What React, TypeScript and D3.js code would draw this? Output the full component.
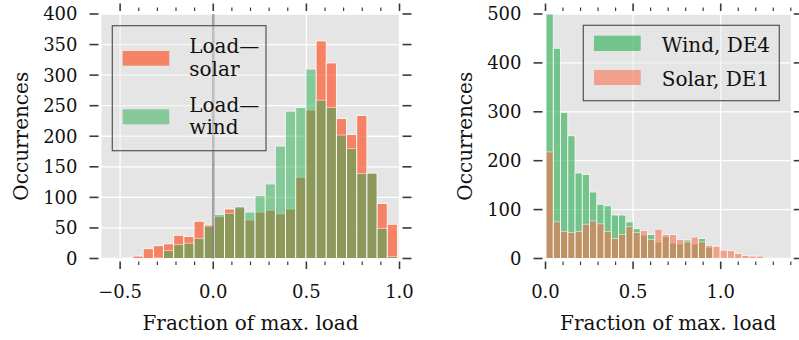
import React, { useEffect, useRef } from 'react';
import * as d3 from 'd3';

const W = 799;
const H = 340;
const FONT = '"DejaVu Serif", serif';

// left panel: load minus renewable generation (histogram counts)
const leftBinStart = -0.54;
const leftBinWidth = 0.0546;
const loadSolar = [2, 1, 4, 16, 21, 24, 38, 36, 61, 55, 69, 81, 83, 63, 76, 79, 73, 81, 133, 243, 356, 320, 229, 203, 234, 139, 90, 56];
const loadWind = [0, 0, 0, 0, 1, 13, 23, 25, 33, 53, 72, 74, 85, 76, 103, 122, 184, 241, 247, 310, 259, 247, 202, 180, 139, 140, 49, 3];

// right panel: renewable generation per region
const rightBinStart = 0.003;
const rightBinWidth = 0.0414;
const windDE4 = [500, 430, 299, 251, 175, 172, 136, 111, 108, 89, 89, 75, 61, 48, 49, 34, 45, 32, 30, 38, 30, 41, 23, 0, 0, 0, 0, 0, 0, 0];
const solarDE1 = [218, 75, 55, 53, 55, 70, 77, 71, 55, 41, 49, 65, 53, 57, 39, 60, 49, 49, 39, 34, 44, 34, 27, 25, 17, 16, 10, 6, 5, 5];

const leftXTicks = [-0.5, 0, 0.5, 1.0];
const leftYTicks = [0, 50, 100, 150, 200, 250, 300, 350, 400];
const rightXTicks = [0, 0.5, 1.0];
const rightYTicks = [0, 100, 200, 300, 400, 500];

const GREEN = '#27ae4f';
const RED = '#fa6a46';

interface Series {
  values: number[];
  color: string;
  opacity: number;
}

interface PanelOpts {
  id: string;
  x0: number;
  x1: number;
  y0: number;
  y1: number;
  xDomain: [number, number];
  yDomain: [number, number];
  xTicks: number[];
  minorTicks: number[];
  yTicks: number[];
  binStart: number;
  binWidth: number;
  series: Series[];
}

function drawPanel(svg: d3.Selection<SVGSVGElement, unknown, null, undefined>, o: PanelOpts) {
  const x = d3.scaleLinear().domain(o.xDomain).range([o.x0, o.x1]);
  const y = d3.scaleLinear().domain(o.yDomain).range([o.y1, o.y0]);
  const g = svg.append('g');

  svg.append('defs').append('clipPath').attr('id', o.id)
    .append('rect').attr('x', o.x0).attr('y', o.y0).attr('width', o.x1 - o.x0).attr('height', o.y1 - o.y0);

  g.append('rect')
    .attr('x', o.x0).attr('y', o.y0)
    .attr('width', o.x1 - o.x0).attr('height', o.y1 - o.y0)
    .attr('fill', '#e5e5e5');

  // grid
  g.selectAll('line.gx').data(o.xTicks).join('line')
    .attr('x1', d => x(d)).attr('x2', d => x(d))
    .attr('y1', o.y0).attr('y2', o.y1)
    .attr('stroke', '#fff').attr('stroke-width', 1.3);
  g.selectAll('line.gy').data(o.yTicks).join('line')
    .attr('y1', d => y(d)).attr('y2', d => y(d))
    .attr('x1', o.x0).attr('x2', o.x1)
    .attr('stroke', '#fff').attr('stroke-width', 1.3);

  const bars = g.append('g').attr('clip-path', `url(#${o.id})`);
  o.series.forEach(s => {
    bars.append('g').selectAll('rect').data(s.values).join('rect')
      .attr('x', (_, i) => x(o.binStart + i * o.binWidth))
      .attr('width', (_, i) => x(o.binStart + (i + 1) * o.binWidth) - x(o.binStart + i * o.binWidth))
      .attr('y', d => y(d))
      .attr('height', d => y(0) - y(d))
      .attr('fill', s.color)
      .attr('stroke', '#fff')
      .attr('stroke-width', 0.9)
      .attr('opacity', s.opacity);
  });

  // ticks, outward with a small gap
  const tk = g.append('g').attr('stroke', '#3a3a3a');
  const gap = 3;
  o.minorTicks.forEach(t => {
    const major = o.xTicks.some(m => Math.abs(m - t) < 1e-6);
    const len = major ? 7.5 : 3.5;
    const w = major ? 1.6 : 1.2;
    tk.append('line').attr('x1', x(t)).attr('x2', x(t))
      .attr('y1', o.y0 - gap).attr('y2', o.y0 - gap - len).attr('stroke-width', w);
    tk.append('line').attr('x1', x(t)).attr('x2', x(t))
      .attr('y1', o.y1 + gap).attr('y2', o.y1 + gap + len).attr('stroke-width', w);
  });
  o.yTicks.forEach(t => {
    tk.append('line').attr('y1', y(t)).attr('y2', y(t))
      .attr('x1', o.x0 - gap).attr('x2', o.x0 - gap - 9).attr('stroke-width', 1.6);
    tk.append('line').attr('y1', y(t)).attr('y2', y(t))
      .attr('x1', o.x1 + gap).attr('x2', o.x1 + gap + 9).attr('stroke-width', 1.6);
  });

  // tick labels
  const fmtX = d3.format('.1f');
  g.selectAll('text.xl').data(o.xTicks).join('text')
    .attr('x', d => x(d)).attr('y', 297.5)
    .attr('text-anchor', 'middle')
    .attr('font-family', FONT).attr('font-size', 18).attr('fill', '#111')
    .text(d => fmtX(d).replace('-', '\u2212'));
  g.selectAll('text.yl').data(o.yTicks).join('text')
    .attr('x', o.x0 - 24).attr('y', d => y(d)).attr('dy', '0.36em')
    .attr('text-anchor', 'end')
    .attr('font-family', FONT).attr('font-size', 18).attr('fill', '#111')
    .text(d => d);

  g.append('text')
    .attr('x', (o.x0 + o.x1) / 2).attr('y', 329.5)
    .attr('text-anchor', 'middle')
    .attr('font-family', FONT).attr('font-size', 20).attr('fill', '#111')
    .text('Fraction of max. load');
  g.append('text')
    .attr('transform', `translate(${o.x0 - 73.5},${(o.y0 + o.y1) / 2}) rotate(-90)`)
    .attr('text-anchor', 'middle')
    .attr('font-family', FONT).attr('font-size', 20).attr('fill', '#111')
    .text('Occurrences');

  return { g, x, y };
}

const App: React.FC = () => {
  const svgRef = useRef<SVGSVGElement>(null);

  useEffect(() => {
    if (!svgRef.current) return;
    const svg = d3.select(svgRef.current);
    svg.selectAll('*').remove();

    const leftMinor = d3.range(-5, 11).map(i => i / 10);
    const rightMinor = d3.range(0, 15).map(i => i / 10);

    const left = drawPanel(svg, {
      id: 'clipL', x0: 101.5, x1: 399.5, y0: 14, y1: 258.5,
      xDomain: [-0.6, 1.0], yDomain: [0, 400],
      xTicks: leftXTicks, minorTicks: leftMinor, yTicks: leftYTicks,
      binStart: leftBinStart, binWidth: leftBinWidth,
      series: [
        { values: loadSolar, color: RED, opacity: 0.8 },
        { values: loadWind, color: GREEN, opacity: 0.5 },
      ],
    });

    // zero line
    left.g.append('line')
      .attr('x1', left.x(0)).attr('x2', left.x(0))
      .attr('y1', 14).attr('y2', 258.5)
      .attr('stroke', '#808080').attr('stroke-width', 2.5).attr('opacity', 0.7);

    // left legend
    const lg = left.g.append('g');
    lg.append('rect').attr('x', 112.3).attr('y', 25.7).attr('width', 153.7).attr('height', 125)
      .attr('fill', '#e5e5e5').attr('fill-opacity', 0.4)
      .attr('stroke', '#555').attr('stroke-width', 1.2);
    lg.append('rect').attr('x', 122.7).attr('y', 51).attr('width', 46.6).attr('height', 14.7)
      .attr('fill', RED).attr('opacity', 0.8);
    lg.append('rect').attr('x', 122.7).attr('y', 109.3).attr('width', 46.6).attr('height', 15)
      .attr('fill', GREEN).attr('opacity', 0.5);
    [['Load\u2014', 53.3], ['solar', 75.5], ['Load\u2014', 111.7], ['wind', 134]].forEach(([t, yy]) => {
      lg.append('text').attr('x', 189.3).attr('y', yy as number)
        .attr('font-family', FONT).attr('font-size', 20).attr('fill', '#111')
        .text(t as string);
    });

    const right = drawPanel(svg, {
      id: 'clipR', x0: 545.5, x1: 790.8, y0: 14, y1: 258.5,
      xDomain: [0, 1.4], yDomain: [0, 500],
      xTicks: rightXTicks, minorTicks: rightMinor, yTicks: rightYTicks,
      binStart: rightBinStart, binWidth: rightBinWidth,
      series: [
        { values: windDE4, color: GREEN, opacity: 0.6 },
        { values: solarDE1, color: RED, opacity: 0.55 },
      ],
    });

    const rg = right.g.append('g');
    rg.append('rect').attr('x', 583.3).attr('y', 25.3).attr('width', 196).attr('height', 75.4)
      .attr('fill', '#e5e5e5').attr('fill-opacity', 0.4)
      .attr('stroke', '#555').attr('stroke-width', 1.2);
    rg.append('rect').attr('x', 594).attr('y', 35.7).attr('width', 46.7).attr('height', 15.3)
      .attr('fill', GREEN).attr('opacity', 0.6);
    rg.append('rect').attr('x', 594).attr('y', 70).attr('width', 46.7).attr('height', 15)
      .attr('fill', RED).attr('opacity', 0.55);
    [['Wind, DE4', 52], ['Solar, DE1', 85.7]].forEach(([t, yy]) => {
      rg.append('text').attr('x', 661.7).attr('y', yy as number)
        .attr('font-family', FONT).attr('font-size', 20).attr('fill', '#111')
        .text(t as string);
    });
  }, []);

  return (
    <svg ref={svgRef} width={W} height={H}
      style={{ position: 'absolute', left: 0, top: 0, background: '#fff' }} />
  );
};

export default App;
